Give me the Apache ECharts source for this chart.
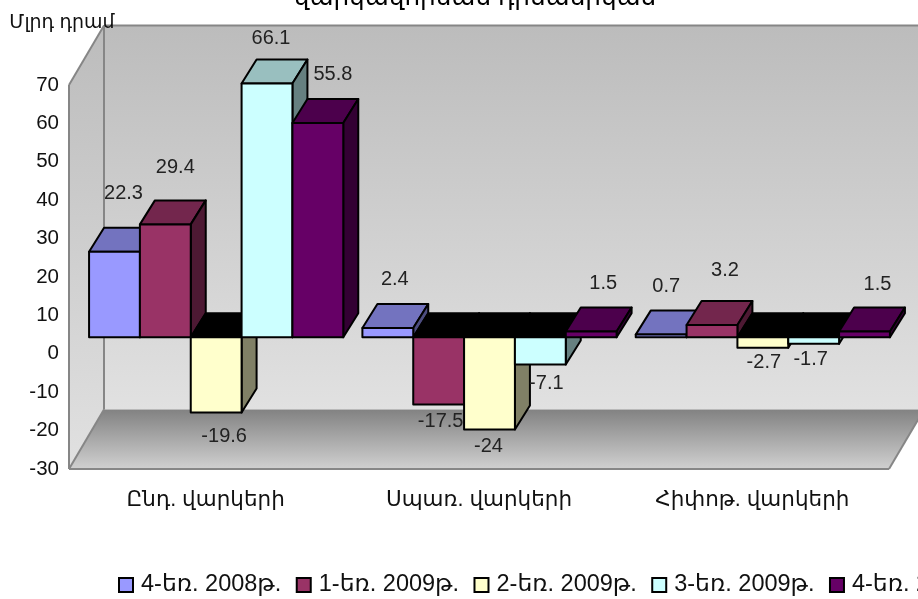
<!DOCTYPE html>
<html><head><meta charset="utf-8">
<style>html,body{margin:0;padding:0;background:#fff;overflow:hidden}#c{width:918px;height:599px}</style>
<script src="https://cdn.jsdelivr.net/npm/echarts@6/dist/echarts.min.js"></script>
</head><body><div id="c"></div>
<script>
const categories = ['Ընդ. վարկերի', 'Սպառ. վարկերի', 'Հիփոթ. վարկերի'];
const q4_2008 = [22.3, 2.4, 0.7];
const q1_2009 = [29.4, -17.5, 3.2];
const q2_2009 = [-19.6, -24, -2.7];
const q3_2009 = [66.1, -7.1, -1.7];
const q4_2009 = [55.8, 1.5, 1.5];
const seriesNames = ['4-եռ. 2008թ.', '1-եռ. 2009թ.', '2-եռ. 2009թ.', '3-եռ. 2009թ.', '4-եռ. 2009թ.'];
const seriesValues = [q4_2008, q1_2009, q2_2009, q3_2009, q4_2009];
const yTickMin = -30, yTickMax = 70, yTickStep = 10;

const colors = ['#9999ff', '#993366', '#ffffcc', '#ccffff', '#660066'];
const topShade = ['#7373bf', '#73264d', '#bfbf99', '#99bfbf', '#4c004c'];
const sideShade = ['#4d4d80', '#4d1933', '#808066', '#668080', '#330033'];
// 3D projection, in pixels
const WALL = {dx: 35, dy: -59.5}, INSET = {dx: 10.5, dy: -16.5}, BAR = {dx: 15, dy: -24};
const groupShare = 0.93;
// data-label nudges from the end of each bar, in pixels
const labelNudge = [
  [[9, -58], [7, -49], [5, -48]],
  [[10, -57], [2, 17], [13, -55]],
  [[8, 24], [-1, 17], [1, 15]],
  [[4, -45], [6, 19], [-3, 16]],
  [[15, -49], [12, -48], [13, -47]]
];

const poly = (pts, fill, stroke, lw) => ({type: 'polygon', shape: {points: pts},
  style: {fill, stroke: stroke || '#000', lineWidth: lw === undefined ? 2 : lw, lineJoin: 'round'}});

function renderWalls(params) {
  const r = params.coordSys;
  const L = r.x, R = r.x + r.width, T = r.y, B = r.y + r.height;
  const d = WALL;
  const wallFill = {type: 'linear', x: 0, y: 0, x2: 0, y2: 1, colorStops: [{offset: 0, color: '#bcbcbc'}, {offset: 1, color: '#e1e1e1'}]};
  const floorFill = {type: 'linear', x: 0, y: 0, x2: 0, y2: 1, colorStops: [{offset: 0, color: '#828282'}, {offset: 1, color: '#d0d0d0'}]};
  const edge = '#868686';
  const line = (a, b) => ({type: 'line', shape: {x1: a[0], y1: a[1], x2: b[0], y2: b[1]}, style: {stroke: edge, lineWidth: 2}});
  return {type: 'group', children: [
    poly([[L + d.dx, T + d.dy], [R + d.dx, T + d.dy], [R + d.dx, B + d.dy], [L + d.dx, B + d.dy]], wallFill, 'none', 0),
    poly([[L, T], [L + d.dx, T + d.dy], [L + d.dx, B + d.dy], [L, B]], wallFill, 'none', 0),
    poly([[L, B], [L + d.dx, B + d.dy], [R + d.dx, B + d.dy], [R, B]], floorFill, 'none', 0),
    line([L, T], [L, B]), line([L, T], [L + d.dx, T + d.dy]),
    line([L + d.dx, T + d.dy], [R + d.dx, T + d.dy]),
    line([L + d.dx, T + d.dy], [L + d.dx, B + d.dy]),
    line([L, B], [L + d.dx, B + d.dy]), line([L, B], [R, B]), line([R, B], [R + d.dx, B + d.dy])
  ]};
}

function makeRender(s) {
  return function (params, api) {
    const c = api.value(0), v = api.value(1);
    const band = api.size([1, 0])[0];
    const w = band * groupShare / seriesValues.length;
    const zero = api.coord([c, 0]), end = api.coord([c, v]);
    const x0 = zero[0] + INSET.dx + (s - seriesValues.length / 2) * w;
    const x1 = x0 + w;
    const yBase = zero[1] + INSET.dy, yEnd = end[1] + INSET.dy;
    const yTop = Math.min(yBase, yEnd), yBot = Math.max(yBase, yEnd);
    const dx = BAR.dx, dy = BAR.dy;
    const n = labelNudge[s][c];
    return {type: 'group', children: [
      poly([[x0, yTop], [x0 + dx, yTop + dy], [x1 + dx, yTop + dy], [x1, yTop]], v < 0 ? '#000000' : topShade[s]),
      poly([[x1, yTop], [x1 + dx, yTop + dy], [x1 + dx, yBot + dy], [x1, yBot]], sideShade[s]),
      poly([[x0, yTop], [x1, yTop], [x1, yBot], [x0, yBot]], colors[s]),
      {type: 'text', z2: 20, style: {x: (x0 + x1) / 2 + n[0], y: yEnd + n[1], text: String(v), align: 'center', verticalAlign: 'middle',
        fill: '#222', font: '20px "Liberation Sans", Arial, sans-serif'}}
    ]};
  };
}

const FONT = '"Liberation Sans", "DejaVu Sans", sans-serif';
const series = [{type: 'custom', name: 'walls', z: 1, silent: true, renderItem: renderWalls, data: [[0, 0]], encode: {x: 0, y: 1}}];
seriesNames.forEach((name, s) => series.push({
  type: 'custom', name, z: 2, renderItem: makeRender(s),
  itemStyle: {color: colors[s]},
  encode: {x: 0, y: 1},
  data: seriesValues[s].map((v, c) => [c, v])
}));

const chart = echarts.init(document.getElementById('c'), null, {renderer: 'canvas'});
chart.setOption({
  animation: false,
  backgroundColor: '#fff',
  title: {text: 'վարկավորման դինամիկան', left: 475, top: -14, padding: 0, textAlign: 'center',
    textStyle: {fontFamily: FONT, fontSize: 24.7, fontWeight: 'normal', color: '#000'}},
  grid: {left: 69, top: 85, width: 820, height: 384, containLabel: false},
  legend: {data: seriesNames, left: 118, top: 573, width: 1400, padding: 0, itemWidth: 14, itemHeight: 14, itemGap: 14.5,
    icon: 'rect', itemStyle: {borderColor: '#000', borderWidth: 2},
    textStyle: {fontFamily: FONT, fontSize: 23.5, color: '#111', padding: [0, 0, 0, 3]}},
  xAxis: {type: 'category', data: categories, position: 'bottom',
    axisLine: {show: false}, axisTick: {show: false}, splitLine: {show: false},
    axisLabel: {interval: 0, margin: 20, fontFamily: FONT, fontSize: 21.5, color: '#111'}},
  yAxis: {type: 'value', min: yTickMin, max: yTickMax, interval: yTickStep, z: 3,
    name: 'Մլրդ դրամ', nameLocation: 'end', nameGap: 53,
    nameTextStyle: {fontFamily: FONT, fontSize: 19, color: '#111', padding: [0, 14, 0, 0]},
    axisLine: {show: false}, axisTick: {show: false}, splitLine: {show: false},
    axisLabel: {margin: 10, fontFamily: '"Liberation Sans", Arial, sans-serif', fontSize: 20.5, color: '#111'}},
  series
});
</script></body></html>
